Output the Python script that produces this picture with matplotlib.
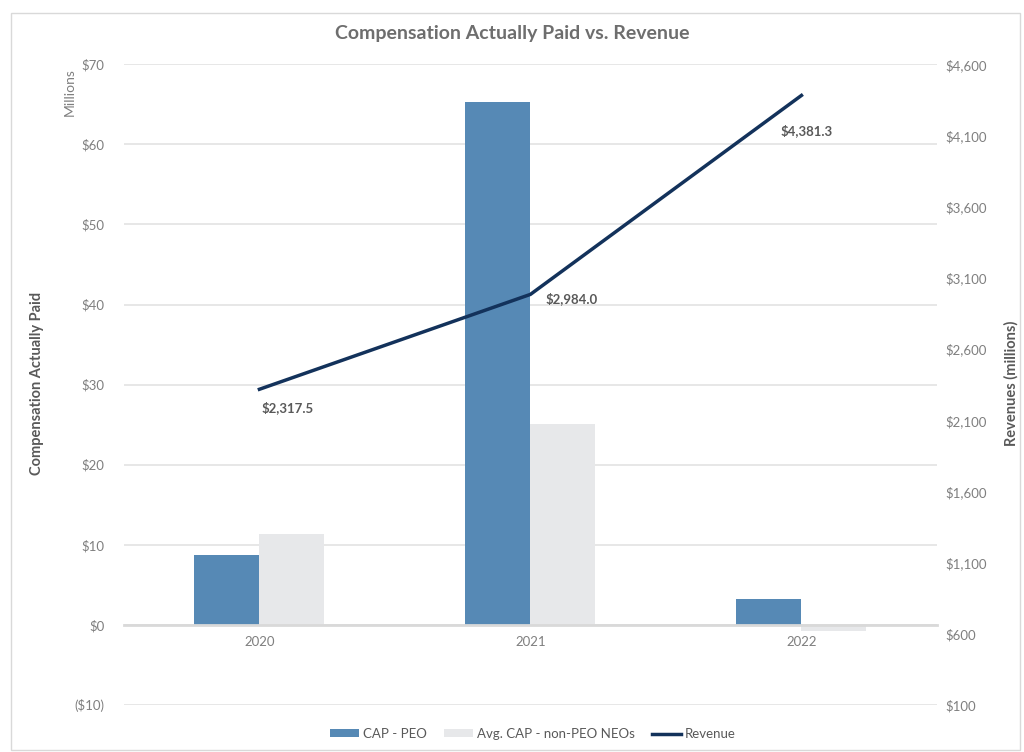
import matplotlib
matplotlib.use('Agg')
import matplotlib.pyplot as plt
import numpy as np
from matplotlib.patches import Rectangle

years = ['2020', '2021', '2022']
cap_peo = [8.7, 65.3, 3.2]
cap_non_peo = [11.4, 25.1, -0.75]
revenue = [2317.5, 2984.0, 4381.3]
revenue_labels = ['$2,317.5', '$2,984.0', '$4,381.3']

left_ticks = [-10, 0, 10, 20, 30, 40, 50, 60, 70]
left_labels = ['($10)', '$0', '$10', '$20', '$30', '$40', '$50', '$60', '$70']
right_ticks = [100, 600, 1100, 1600, 2100, 2600, 3100, 3600, 4100, 4600]
right_labels = ['$100', '$600', '$1,100', '$1,600', '$2,100', '$2,600',
                '$3,100', '$3,600', '$4,100', '$4,600']

plt.rcParams['font.family'] = ['Lato', 'DejaVu Sans']
grey = '#595959'
tick_grey = '#7f7f7f'

fig = plt.figure(figsize=(10.24, 7.52), dpi=100)
fig.patches.append(Rectangle((0.011, 0.003), 0.985, 0.98, transform=fig.transFigure,
                             fill=False, edgecolor='#d9d9d9', linewidth=1.0))
ax = fig.add_axes([0.121, 0.0625, 0.794, 0.852])
ax2 = ax.twinx()

x = np.arange(len(years))
w = 0.24
ax.bar(x - w / 2, cap_peo, w, color='#5689b5', label='CAP - PEO', zorder=3)
ax.bar(x + w / 2, cap_non_peo, w, color='#e7e8ea', label='Avg. CAP - non-PEO NEOs', zorder=3)
ax.set_xlim(-0.5, 2.5)
ax.set_ylim(-10, 70)
ax.set_yticks(left_ticks)
ax.set_yticklabels(left_labels)
ax.yaxis.grid(True, color='#e3e3e3', linewidth=1.2, zorder=0)
ax.set_axisbelow(True)
ax.set_xticks(x)
ax.set_xticklabels(years)
for s in ['top', 'right', 'left']:
    ax.spines[s].set_visible(False)
ax.spines['bottom'].set_position(('data', 0))
ax.spines['bottom'].set_color('#d9d9d9')
ax.spines['bottom'].set_linewidth(2)
ax.spines['bottom'].set_zorder(4)
ax.tick_params(axis='both', length=0, colors=tick_grey, labelsize=9.5)
ax.tick_params(axis='y', pad=14)
ax.tick_params(axis='x', pad=8)

line, = ax2.plot(x, revenue, color='#13325b', linewidth=2.5, label='Revenue', zorder=5)
ax2.set_ylim(100, 4600)
ax2.set_yticks(right_ticks)
ax2.set_yticklabels(right_labels)
for s in ax2.spines.values():
    s.set_visible(False)
ax2.tick_params(axis='y', length=0, colors=tick_grey, labelsize=9.5, pad=6)

offsets = [(20, -13), (30, -3), (4, -25)]
for xi, val, lab, (dx, dy) in zip(x, revenue, revenue_labels, offsets):
    ax2.annotate(lab, (xi, val), xytext=(dx, dy), textcoords='offset points',
                 ha='center', va='center', fontsize=9.5, fontweight='bold', color=grey)

fig.text(0.5, 0.955, 'Compensation Actually Paid vs. Revenue', ha='center', va='center',
         fontsize=14, fontweight='bold', color='#6e6e6e')
fig.text(0.068, 0.878, 'Millions', rotation=90, ha='center', va='center',
         fontsize=10, color=tick_grey)
fig.text(0.036, 0.49, 'Compensation Actually Paid', rotation=90, ha='center', va='center',
         fontsize=10.5, fontweight='bold', color=grey)
fig.text(0.988, 0.49, 'Revenues (millions)', rotation=90, ha='center', va='center',
         fontsize=10.5, fontweight='bold', color=grey)

handles = ax.get_legend_handles_labels()[0] + [line]
labels = ['CAP - PEO', 'Avg. CAP - non-PEO NEOs', 'Revenue']
fig.legend(handles, labels, loc='center', bbox_to_anchor=(0.52, 0.024), ncol=3,
           frameon=False, fontsize=9.5, labelcolor=grey, handlelength=2.2,
           handleheight=0.6, columnspacing=1.3, handletextpad=0.3)

fig.savefig('out.png', dpi=100)
plt.close(fig)
